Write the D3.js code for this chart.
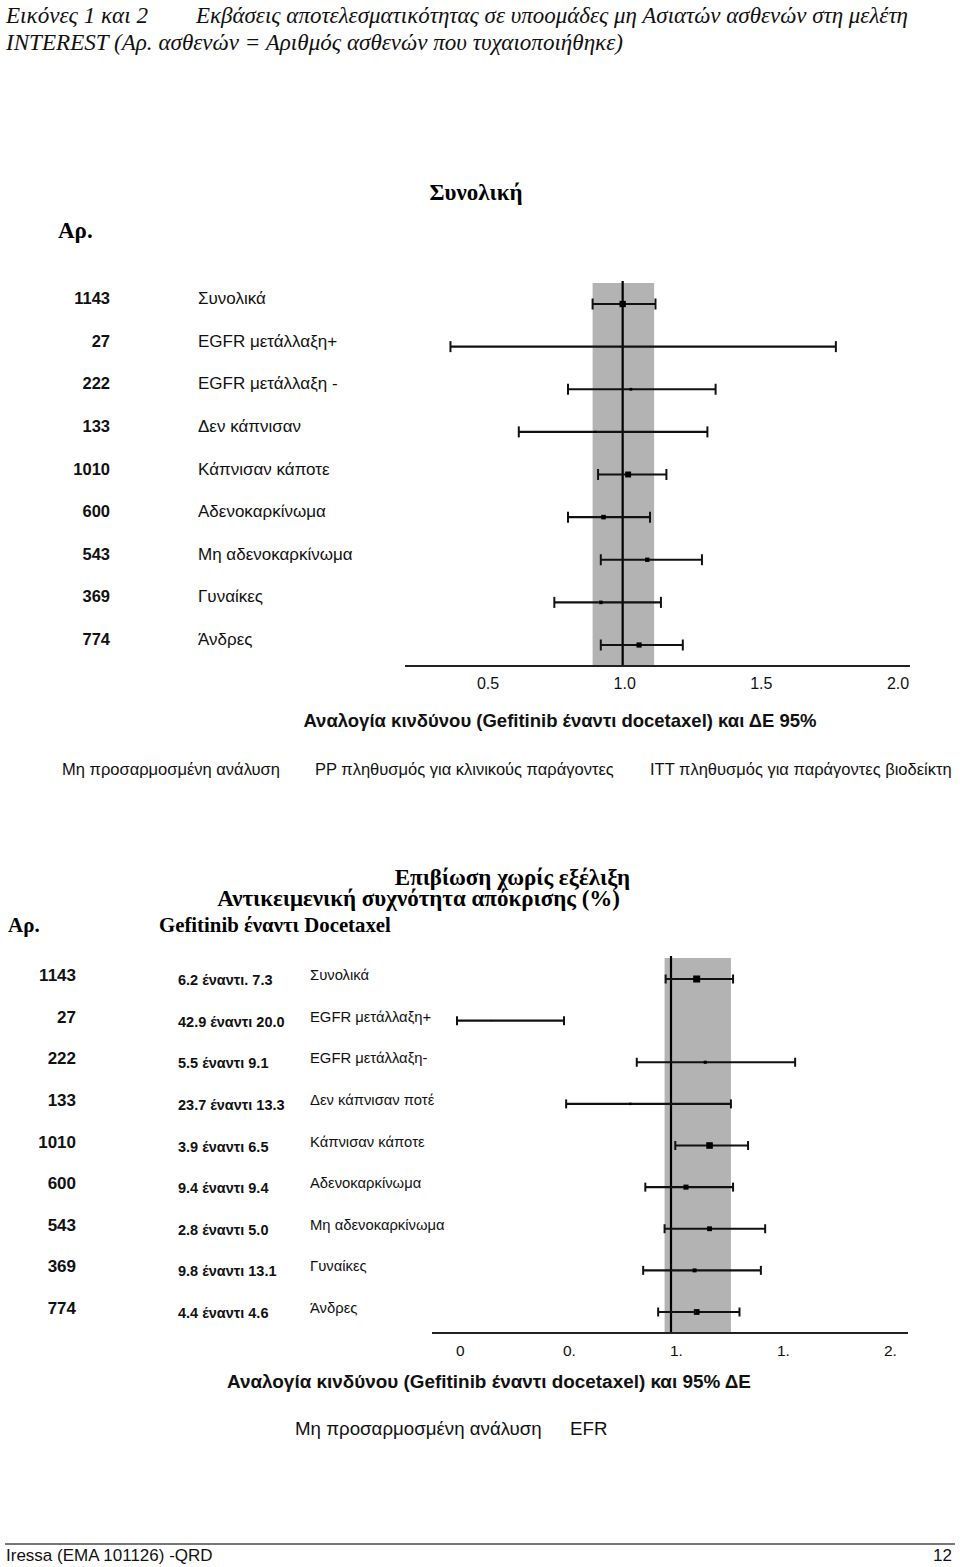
<!DOCTYPE html>
<html><head><meta charset="utf-8">
<script src="https://cdn.jsdelivr.net/npm/d3@7"></script>
<style>body{margin:0;background:#fff}svg{display:block}</style>
</head><body>
<script>
// ---------- data ----------
const nPatients = [1143, 27, 222, 133, 1010, 600, 543, 369, 774];
const subgroups1 = ["Συνολικά","EGFR μετάλλαξη+","EGFR μετάλλαξη -","Δεν κάπνισαν","Κάπνισαν κάποτε","Αδενοκαρκίνωμα","Μη αδενοκαρκίνωμα","Γυναίκες","Άνδρες"];
const hr1 = [1.00, 0.99, 1.03, 0.90, 1.02, 0.93, 1.09, 0.92, 1.06];
const lo1 = [0.89, 0.37, 0.80, 0.62, 0.91, 0.80, 0.92, 0.75, 0.92];
const hi1 = [1.12, 1.78, 1.34, 1.31, 1.16, 1.10, 1.29, 1.14, 1.22];
const band1 = [0.89, 1.115];
const tickValues1 = [0.5, 1.0, 1.5, 2.0];
const tickLabels1 = ["0.5", "1.0", "1.5", "2.0"];
const legend1 = ["Μη προσαρμοσμένη ανάλυση", "PP πληθυσμός για κλινικούς παράγοντες", "ITT πληθυσμός για παράγοντες βιοδείκτη"];

const subgroups2 = ["Συνολικά","EGFR μετάλλαξη+","EGFR μετάλλαξη-","Δεν κάπνισαν ποτέ","Κάπνισαν κάποτε","Αδενοκαρκίνωμα","Μη αδενοκαρκίνωμα","Γυναίκες","Άνδρες"];
const responseRates = ["6.2 έναντι. 7.3","42.9 έναντι 20.0","5.5 έναντι 9.1","23.7 έναντι 13.3","3.9 έναντι 6.5","9.4 έναντι 9.4","2.8 έναντι 5.0","9.8 έναντι 13.1","4.4 έναντι 4.6"];
const hr2 = [1.12, 0.16, 1.16, 0.81, 1.18, 1.07, 1.18, 1.11, 1.12];
const lo2 = [0.975, 0.0, 0.84, 0.51, 1.02, 0.88, 0.97, 0.87, 0.94];
const hi2 = [1.29, 0.50, 1.58, 1.28, 1.36, 1.29, 1.44, 1.42, 1.32];
const band2 = [0.97, 1.28];
const tickValues2 = [0, 0.5, 1.0, 1.5, 2.0];
const tickLabels2 = ["0", "0.", "1.", "1.", "2."];
const legend2 = ["Μη προσαρμοσμένη ανάλυση", "EFR"];

// ---------- drawing ----------
const W = 960, H = 1567;
const svg = d3.select("body").append("svg").attr("width", W).attr("height", H);
const SANS = "Liberation Sans, Arial, sans-serif";
const SERIF = "Liberation Serif, Times New Roman, serif";

// header
const hdr = svg.append("g").attr("font-family", SERIF).attr("font-style", "italic").attr("font-size", 24).attr("fill", "#111");
hdr.append("text").attr("x", 6).attr("y", 23).attr("textLength", 142).attr("lengthAdjust", "spacingAndGlyphs").text("Εικόνες 1 και 2");
hdr.append("text").attr("x", 196).attr("y", 23).attr("textLength", 712).attr("lengthAdjust", "spacingAndGlyphs").text("Εκβάσεις αποτελεσματικότητας σε υποομάδες μη Ασιατών ασθενών στη μελέτη");
hdr.append("text").attr("x", 6).attr("y", 50).attr("textLength", 617).attr("lengthAdjust", "spacingAndGlyphs").text("INTEREST (Αρ. ασθενών = Αριθμός ασθενών που τυχαιοποιήθηκε)");

function forest(cfg) {
  const g = svg.append("g");
  const x = d3.scaleLinear().domain(cfg.domain).range(cfg.range);
  const idx = d3.range(cfg.n.length);
  const y = d3.scalePoint().domain(idx).range(cfg.yRange);
  const size = d3.scaleSqrt().domain([0, d3.max(cfg.n)]).range([0, cfg.maxMarker]);

  // gray band
  g.append("rect").attr("x", x(cfg.band[0])).attr("y", cfg.bandTop)
    .attr("width", x(cfg.band[1]) - x(cfg.band[0])).attr("height", cfg.axisY - cfg.bandTop)
    .attr("fill", "#b3b3b3");
  // reference line at 1
  g.append("line").attr("x1", x(1)).attr("x2", x(1)).attr("y1", cfg.bandTop - 2).attr("y2", cfg.axisY)
    .attr("stroke", "#000").attr("stroke-width", 2.2);
  // axis line
  g.append("line").attr("x1", cfg.axisX[0]).attr("x2", cfg.axisX[1]).attr("y1", cfg.axisY).attr("y2", cfg.axisY)
    .attr("stroke", "#222").attr("stroke-width", 2);
  // tick labels
  g.selectAll(".tl").data(cfg.ticks).join("text")
    .attr("x", (d) => x(d) + cfg.tickDx).attr("y", cfg.axisY + cfg.tickDy)
    .attr("text-anchor", cfg.tickAnchor)
    .attr("font-family", SANS).attr("font-size", cfg.tickSize).attr("fill", "#111")
    .text((d, i) => cfg.tickLabels[i]);

  // whiskers
  const rows = g.selectAll(".row").data(idx).join("g");
  rows.append("line").attr("x1", (i) => x(cfg.lo[i])).attr("x2", (i) => x(cfg.hi[i]))
    .attr("y1", (i) => y(i)).attr("y2", (i) => y(i)).attr("stroke", "#111").attr("stroke-width", 2.2);
  rows.append("line").attr("x1", (i) => x(cfg.lo[i])).attr("x2", (i) => x(cfg.lo[i]))
    .attr("y1", (i) => y(i) - cfg.cap).attr("y2", (i) => y(i) + cfg.cap).attr("stroke", "#111").attr("stroke-width", 2);
  rows.append("line").attr("x1", (i) => x(cfg.hi[i])).attr("x2", (i) => x(cfg.hi[i]))
    .attr("y1", (i) => y(i) - cfg.cap).attr("y2", (i) => y(i) + cfg.cap).attr("stroke", "#111").attr("stroke-width", 2);
  rows.append("rect")
    .attr("x", (i) => x(cfg.hr[i]) - size(cfg.n[i]) / 2).attr("y", (i) => y(i) - size(cfg.n[i]) / 2)
    .attr("width", (i) => size(cfg.n[i])).attr("height", (i) => size(cfg.n[i])).attr("fill", "#000");

  // left columns
  rows.append("text").attr("x", cfg.nX).attr("y", (i) => y(i) + cfg.nDy).attr("text-anchor", "end")
    .attr("font-family", SANS).attr("font-weight", "bold").attr("font-size", cfg.nSize).attr("fill", "#111")
    .text((i) => cfg.n[i]);
  if (cfg.rates) {
    rows.append("text").attr("x", cfg.rateX).attr("y", (i) => y(i) + cfg.rateDy)
      .attr("font-family", SANS).attr("font-weight", "bold").attr("font-size", cfg.rateSize).attr("fill", "#111")
      .text((i) => cfg.rates[i]);
  }
  rows.append("text").attr("x", cfg.labelX).attr("y", (i) => y(i) + cfg.labelDy)
    .attr("font-family", SANS).attr("font-size", cfg.labelSize).attr("fill", "#111")
    .text((i) => cfg.labels[i]);
  return x;
}

// ---- chart 1 ----
svg.append("text").attr("x", 476).attr("y", 200).attr("text-anchor", "middle")
  .attr("font-family", SERIF).attr("font-weight", "bold").attr("font-size", 23).text("Συνολική");
svg.append("text").attr("x", 58).attr("y", 238)
  .attr("font-family", SERIF).attr("font-weight", "bold").attr("font-size", 23).text("Αρ.");

forest({
  n: nPatients, labels: subgroups1, hr: hr1, lo: lo1, hi: hi1, band: band1,
  domain: [0.5, 2.0], range: [486, 896], yRange: [304, 645],
  bandTop: 283, axisY: 666, axisX: [405, 910],
  ticks: tickValues1, tickLabels: tickLabels1, tickDx: 2, tickDy: 23, tickAnchor: "middle", tickSize: 16,
  cap: 5.5, maxMarker: 6.3,
  nX: 110, nDy: 0, nSize: 16.5, labelX: 198, labelDy: 0, labelSize: 17
});

svg.append("text").attr("x", 560).attr("y", 727).attr("text-anchor", "middle")
  .attr("font-family", SANS).attr("font-weight", "bold").attr("font-size", 18.5).attr("fill", "#111")
  .text("Αναλογία κινδύνου (Gefitinib έναντι docetaxel) και ΔΕ 95%");
const leg1X = [62, 315, 650];
svg.selectAll(".leg1").data(legend1).join("text")
  .attr("x", (d, i) => leg1X[i]).attr("y", 775)
  .attr("font-family", SANS).attr("font-size", 16.5).attr("fill", "#111").text((d) => d);

// ---- chart 2 ----
svg.append("text").attr("x", 630).attr("y", 885).attr("text-anchor", "end")
  .attr("font-family", SERIF).attr("font-weight", "bold").attr("font-size", 23).text("Επιβίωση χωρίς εξέλιξη");
svg.append("text").attr("x", 620).attr("y", 906).attr("text-anchor", "end")
  .attr("font-family", SERIF).attr("font-weight", "bold").attr("font-size", 23).text("Αντικειμενική συχνότητα απόκρισης (%)");
svg.append("text").attr("x", 8).attr("y", 932)
  .attr("font-family", SERIF).attr("font-weight", "bold").attr("font-size", 21).text("Αρ.");
svg.append("text").attr("x", 159).attr("y", 932)
  .attr("font-family", SERIF).attr("font-weight", "bold").attr("font-size", 20.8).text("Gefitinib έναντι Docetaxel");

forest({
  n: nPatients, labels: subgroups2, hr: hr2, lo: lo2, hi: hi2, band: band2, rates: responseRates,
  domain: [0, 2.0], range: [457, 885], yRange: [979, 1312],
  bandTop: 958, axisY: 1333, axisX: [432, 908],
  ticks: tickValues2, tickLabels: tickLabels2, tickDx: -1, tickDy: 23, tickAnchor: "start", tickSize: 15.5,
  cap: 4.5, maxMarker: 7,
  nX: 76, nDy: 2, nSize: 17, rateX: 178, rateDy: 6, rateSize: 14.5, labelX: 310, labelDy: 1, labelSize: 14.8
});

svg.append("text").attr("x", 489).attr("y", 1388).attr("text-anchor", "middle")
  .attr("font-family", SANS).attr("font-weight", "bold").attr("font-size", 18.9).attr("fill", "#111")
  .text("Αναλογία κινδύνου (Gefitinib έναντι docetaxel) και 95% ΔΕ");
const leg2X = [295, 570];
svg.selectAll(".leg2").data(legend2).join("text")
  .attr("x", (d, i) => leg2X[i]).attr("y", 1435)
  .attr("font-family", SANS).attr("font-size", 18.7).attr("fill", "#111").text((d) => d);

// footer
svg.append("line").attr("x1", 5).attr("x2", 955).attr("y1", 1544).attr("y2", 1544).attr("stroke", "#777").attr("stroke-width", 2);
svg.append("text").attr("x", 6).attr("y", 1561).attr("font-family", SANS).attr("font-size", 17).attr("fill", "#111").text("Iressa (EMA 101126) -QRD");
svg.append("text").attr("x", 952).attr("y", 1561).attr("text-anchor", "end").attr("font-family", SANS).attr("font-size", 17).attr("fill", "#111").text("12");
</script>
</body></html>
